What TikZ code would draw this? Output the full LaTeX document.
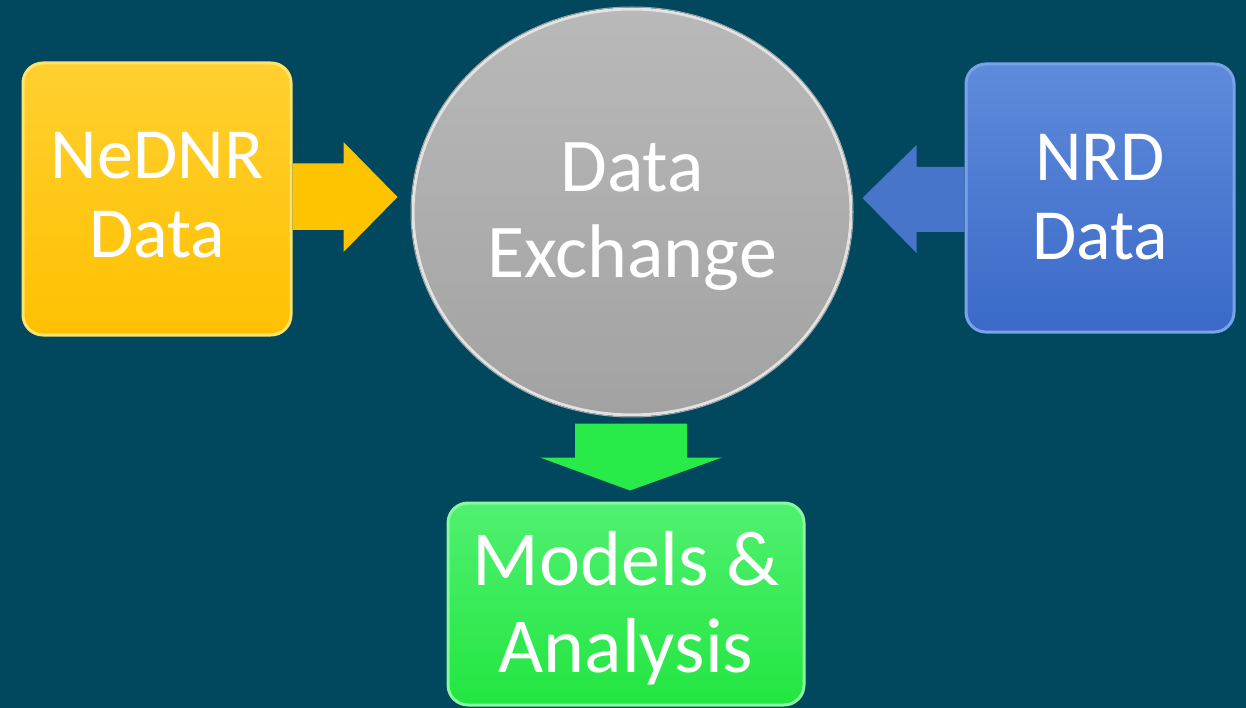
\documentclass[tikz,border=0pt]{standalone}
\usepackage{fontspec}
\setmainfont{Carlito}
\usetikzlibrary{calc,shapes.geometric}
\definecolor{bg}{HTML}{01475E}
\definecolor{ytop}{HTML}{FFD030}
\definecolor{ybot}{HTML}{FFC000}
\definecolor{yedge}{HTML}{FFE36A}
\definecolor{btop}{HTML}{5E8BDA}
\definecolor{bbot}{HTML}{3B69C8}
\definecolor{bedge}{HTML}{7AA2E8}
\definecolor{gtop}{HTML}{50F070}
\definecolor{gbot}{HTML}{22E640}
\definecolor{gedge}{HTML}{8AF8A0}
\definecolor{ctop}{HTML}{B9B9B9}
\definecolor{cbot}{HTML}{A2A2A2}
\definecolor{cedge}{HTML}{E2E2E2}
\definecolor{yarr}{HTML}{FFC400}
\definecolor{barr}{HTML}{4675CA}
\definecolor{garr}{HTML}{28EA48}
\tikzset{
  boxnode/.style={rectangle, rounded corners=20pt, line width=3pt, text=white,
    align=center, inner sep=0pt, text depth=0pt},
  sidefont/.style={font=\fontsize{72}{79}\selectfont},
  dxfont/.style={font=\fontsize{76}{86}\selectfont},
  mafont/.style={font=\fontsize{78}{87}\selectfont},
  yarrow/.style={fill=yarr},
  barrow/.style={fill=barr},
  garrow/.style={fill=garr}
}
\begin{document}
\begin{tikzpicture}[x=1pt,y=-1pt]
\fill[bg] (0,0) rectangle (1246,708);
\useasboundingbox (0,0) rectangle (1246,708);

\node[boxnode, sidefont, text height=118pt, draw=yedge, top color=ytop, bottom color=ybot,
  minimum width=268pt, minimum height=272pt] (ned) at (157,199) {NeDNR\\Data};
\node[boxnode, sidefont, text height=124pt, draw=bedge, top color=btop, bottom color=bbot,
  minimum width=268pt, minimum height=268pt] (nrd) at (1100,198) {NRD\\Data};
\node[ellipse, dxfont, text=white, align=center, inner sep=0pt,
  text height=132pt, text depth=0pt, draw=cedge, line width=3pt,
  top color=ctop, bottom color=cbot,
  minimum width=438pt, minimum height=406pt] (dx) at (632,212) {Data\\Exchange};
\draw[color=gray!70, line width=1pt] (dx.center) ellipse [x radius=221pt, y radius=205pt];
\node[boxnode, mafont, text height=136pt, draw=gedge, top color=gtop, bottom color=gbot,
  minimum width=356pt, minimum height=202pt] (ma) at (626,604) {Models \&\\Analysis};

% connectors (block arrows)
\fill[yarrow, shift={(ned.east)}] (0,-35.5) -- (51,-35.5) -- (51,-57) -- (105,-2)
  -- (51,53) -- (51,31) -- (0,31) -- cycle;
\fill[barrow, shift={(nrd.west)}] (0,-31) -- (-48,-31) -- (-48,-53) -- (-102,0)
  -- (-48,55) -- (-48,34) -- (0,34) -- cycle;
\fill[garrow, shift={(dx.south)}] (-57,7) -- (55,7) -- (55,41) -- (90,41)
  -- (-2,74) -- (-92,41) -- (-57,41) -- cycle;
\end{tikzpicture}
\end{document}
